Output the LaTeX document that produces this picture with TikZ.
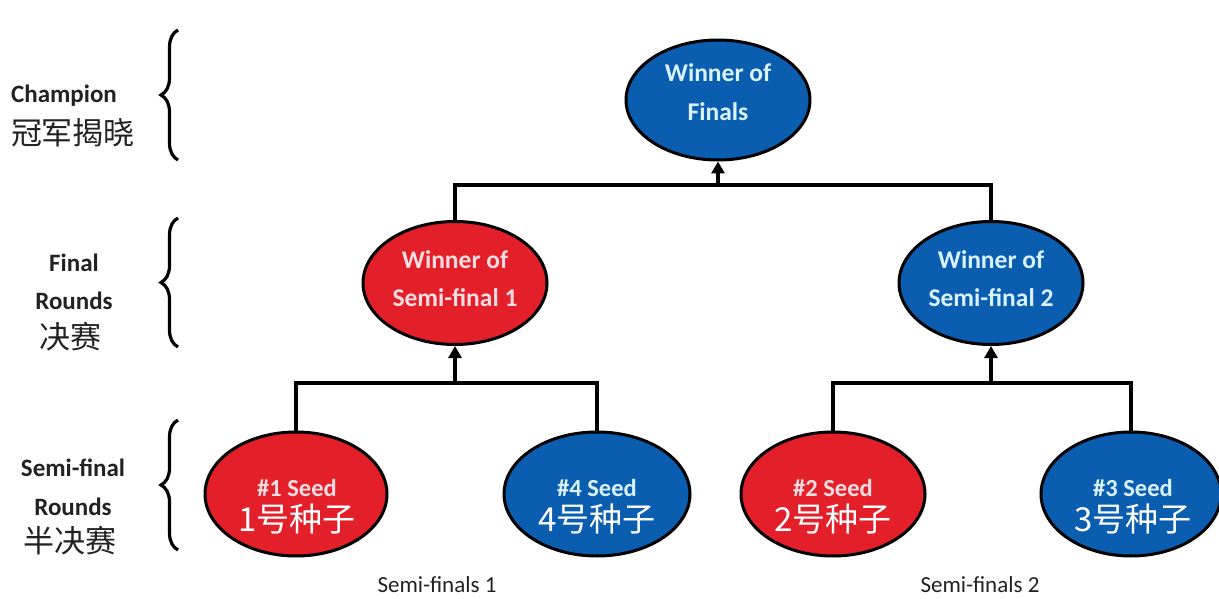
\documentclass[tikz,border=0pt]{standalone}
\usepackage{fontspec}
\setmainfont{Carlito}
\newfontfamily\cjk{Noto Sans CJK SC}
\usetikzlibrary{shapes.geometric,arrows.meta,decorations.pathreplacing}
\definecolor{tred}{HTML}{E3202A}
\definecolor{tblue}{HTML}{0B5DB0}
\definecolor{rtxt}{HTML}{FBDCE0}
\definecolor{btxt}{HTML}{D8F2FF}
\definecolor{lbl}{HTML}{222222}
\tikzset{
  oval/.style={ellipse, draw=black, line width=3pt, inner sep=0pt},
  redoval/.style={oval, fill=tred},
  blueoval/.style={oval, fill=tblue},
  conn/.style={line width=3.3pt, draw=black},
  arr/.style={conn, -{Triangle[width=13pt,length=12pt]}},
  brc/.style={line width=3.2pt, decorate, decoration={brace, amplitude=17pt}},
  lab/.style={inner sep=0pt, text=lbl, font=\bfseries\fontsize{25}{28}\selectfont},
  labc/.style={inner sep=0pt, text=lbl, font=\cjk\fontsize{31}{34}\selectfont},
  foot/.style={inner sep=0pt, text=lbl, font=\fontsize{23}{26}\selectfont},
  intxt/.style={inner sep=0pt, font=\bfseries\fontsize{25.5}{28}\selectfont},
  seedtxt/.style={inner sep=0pt, font=\bfseries\fontsize{24.5}{28}\selectfont},
  cjktxt/.style={inner sep=0pt, font=\cjk\fontsize{33}{36}\selectfont},
}
\begin{document}
\begin{tikzpicture}[x=1pt,y=-1pt]
\useasboundingbox[fill=white] (0,0) rectangle (1219,599);
% ellipses
\node[blueoval, minimum width=184pt, minimum height=120pt] (top) at (718,100) {};
\node[redoval, minimum width=184pt, minimum height=123pt] (m1) at (455,283) {};
\node[blueoval, minimum width=184pt, minimum height=123pt] (m2) at (991,283) {};
\node[redoval, minimum width=182pt, minimum height=124pt] (b1) at (296,494) {};
\node[blueoval, minimum width=186pt, minimum height=124pt] (b4) at (597,494) {};
\node[redoval, minimum width=184pt, minimum height=124pt] (b2) at (833,494) {};
\node[blueoval, minimum width=180pt, minimum height=124pt] (b3) at (1131,494) {};
% ellipse texts
\node[intxt, text=btxt] (topa) at (718,73) {Winner of};
\node[intxt, text=btxt] (topb) at (718,112) {Finals};
\node[intxt, text=rtxt] (m1a) at (455,260) {Winner of};
\node[intxt, text=rtxt] (m1b) at (455,298) {Semi-final 1};
\node[intxt, text=btxt] (m2a) at (991,260) {Winner of};
\node[intxt, text=btxt] (m2b) at (991,298) {Semi-final 2};
\node[seedtxt, text=rtxt] (b1a) at (297,488) {\#1 Seed};
\node[cjktxt, text=white] (b1b) at (297,519) {1号种子};
\node[seedtxt, text=btxt] (b4a) at (597,488) {\#4 Seed};
\node[cjktxt, text=white] (b4b) at (597,519) {4号种子};
\node[seedtxt, text=rtxt] (b2a) at (833,488) {\#2 Seed};
\node[cjktxt, text=white] (b2b) at (833,519) {2号种子};
\node[seedtxt, text=btxt] (b3a) at (1133,488) {\#3 Seed};
\node[cjktxt, text=white] (b3b) at (1133,519) {3号种子};
% junctions
\coordinate (jt) at (718,185);
\coordinate (j1) at (455,383);
\coordinate (j2) at (991,383);
% connectors
\draw[conn] (m1.north) -- (m1.north |- jt) -- (m2.north |- jt) -- (m2.north);
\draw[arr] (jt) -- (top.south);
\draw[conn] (b1.north) -- (b1.north |- j1) -- (b4.north |- j1) -- (b4.north);
\draw[arr] (j1) -- (m1.south);
\draw[conn] (b2.north) -- (b2.north |- j2) -- (b3.north |- j2) -- (b3.north);
\draw[arr] (j2) -- (m2.south);
% braces
\coordinate (c1b) at (178,160); \coordinate (c1t) at (178,30);
\coordinate (c2b) at (178,347); \coordinate (c2t) at (178,218);
\coordinate (c3b) at (178,550); \coordinate (c3t) at (178,420);
\draw[brc] (c1b) -- (c1t);
\draw[brc] (c2b) -- (c2t);
\draw[brc] (c3b) -- (c3t);
% left labels
\node[lab] (l1a) at (64,96) {Champion};
\node[labc] (l1b) at (73,133) {冠军揭晓};
\node[lab] (l2a) at (74,263) {Final};
\node[lab] (l2b) at (74,301) {Rounds};
\node[labc] (l2c) at (70,337) {决赛};
\node[lab] (l3a) at (73,468) {Semi-final};
\node[lab] (l3b) at (73,507) {Rounds};
\node[labc] (l3c) at (70,541) {半决赛};
% footers
\node[foot] (f1) at (437,585) {Semi-finals 1};
\node[foot] (f2) at (980,585) {Semi-finals 2};
\end{tikzpicture}
\end{document}
